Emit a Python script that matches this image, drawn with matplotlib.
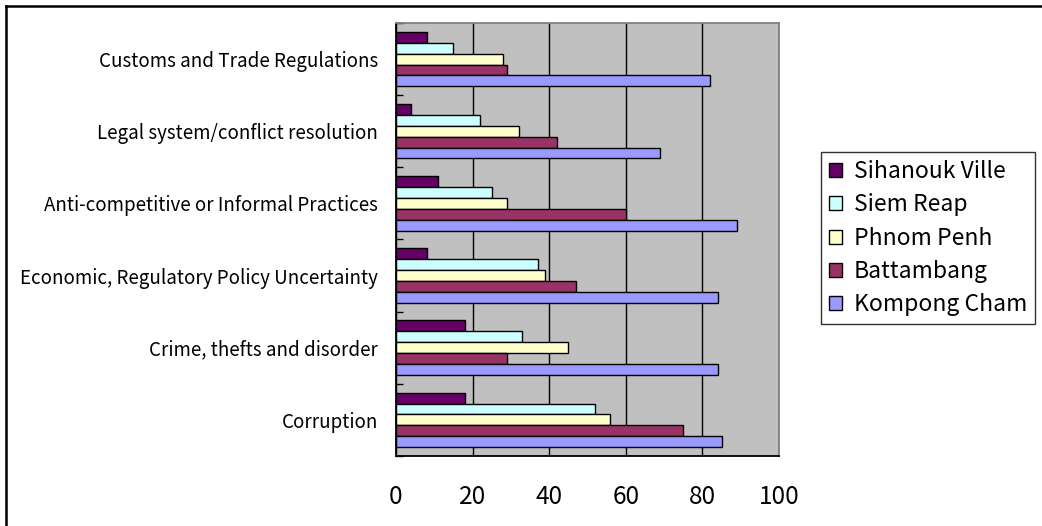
import matplotlib
matplotlib.use("Agg")
import matplotlib.pyplot as plt
import numpy as np
from matplotlib.lines import Line2D

plt.rcParams["font.family"] = ["Noto Sans CJK JP", "DejaVu Sans"]

categories = [
    "Corruption",
    "Crime, thefts and disorder",
    "Economic, Regulatory Policy Uncertainty",
    "Anti-competitive or Informal Practices",
    "Legal system/conflict resolution",
    "Customs and Trade Regulations",
]

# values per region, same order as categories (bottom to top)
sihanouk_ville = [18, 18, 8, 11, 4, 8]
siem_reap = [52, 33, 37, 25, 22, 15]
phnom_penh = [56, 45, 39, 29, 32, 28]
battambang = [75, 29, 47, 60, 42, 29]
kompong_cham = [85, 84, 84, 89, 69, 82]

regions = ["Sihanouk Ville", "Siem Reap", "Phnom Penh", "Battambang", "Kompong Cham"]
series = [sihanouk_ville, siem_reap, phnom_penh, battambang, kompong_cham]
colors = ["#660066", "#CCFFFF", "#FFFFCC", "#993366", "#9999FF"]

fig = plt.figure(figsize=(10.42, 5.26), dpi=100)
ax = fig.add_axes([0.380, 0.1331, 0.3676, 0.8232])
ax.set_facecolor("#C0C0C0")

y = np.arange(len(categories))
h = 0.151
for k, (name, vals, col) in enumerate(zip(regions, series, colors)):
    ax.barh(y + (2 - k) * h, vals, height=h, color=col, edgecolor="black",
            linewidth=1.0, label=name, zorder=3)

ax.set_xlim(0, 100)
ax.set_ylim(-0.5, len(categories) - 0.5)
ax.set_xticks([0, 20, 40, 60, 80, 100])
ax.tick_params(axis="x", length=0, pad=20, labelsize=17.5)
ax.grid(axis="x", color="black", linewidth=1.0, zorder=1)

ax.set_yticks(np.arange(-0.5, len(categories)), labels=[""] * (len(categories) + 1))
ax.tick_params(axis="y", which="major", direction="in", length=5, width=1.0, color="black")
ax.set_yticks(y, labels=categories, minor=True)
ax.tick_params(axis="y", which="minor", length=0, pad=13, labelsize=13.5)

for side in ["left", "bottom"]:
    ax.spines[side].set_color("black")
    ax.spines[side].set_linewidth(1.3)
for side in ["top", "right"]:
    ax.spines[side].set_color("#808080")
    ax.spines[side].set_linewidth(1.3)

leg = fig.legend(loc="upper left", bbox_to_anchor=(0.788, 0.711), fontsize=16.5,
                 frameon=True, fancybox=False, edgecolor="black",
                 handlelength=0.57, handleheight=0.57, handletextpad=0.5,
                 labelspacing=0.45, borderpad=0.35, borderaxespad=0)
leg.get_frame().set_linewidth(1.0)

# outer chart border (only top and left visible in the crop)
fig.add_artist(Line2D([0.0053, 0.0053], [0.0, 0.988], color="black", linewidth=1.8,
                      transform=fig.transFigure))
fig.add_artist(Line2D([0.0053, 1.0], [0.988, 0.988], color="black", linewidth=1.8,
                      transform=fig.transFigure))

fig.savefig("out.png", dpi=100)
